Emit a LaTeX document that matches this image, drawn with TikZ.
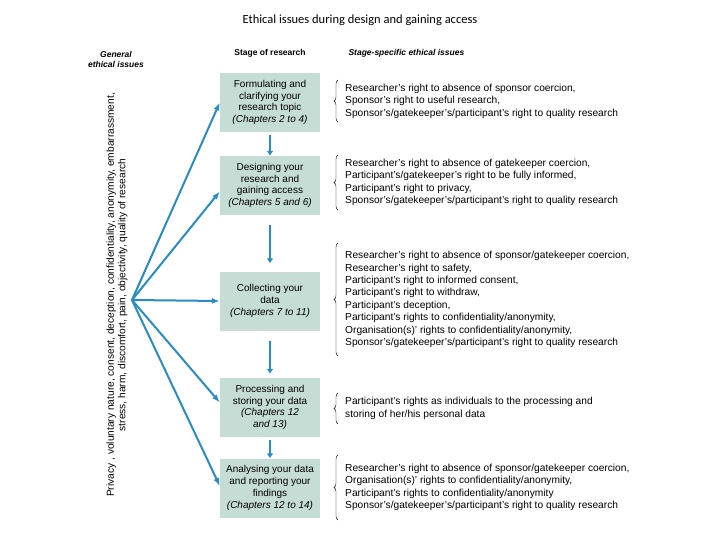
\documentclass[tikz,border=0pt]{standalone}
\usepackage{fontspec}
\setmainfont{Liberation Sans}
\newfontfamily\titlefont{Carlito}
\usetikzlibrary{arrows.meta,decorations.pathreplacing}
\definecolor{boxc}{HTML}{C6DDD6}
\definecolor{arr}{HTML}{2A8CC4}
\begin{document}
\begin{tikzpicture}[x=1pt,y=-1pt,
  stagebox/.style={fill=boxc,minimum width=100pt,minimum height=59pt,align=center,font=\fontsize{10}{11.8}\selectfont,inner sep=1pt},
  issues/.style={anchor=west,align=left,font=\fontsize{10.2}{12.4}\selectfont,inner sep=0pt},
  garr/.style={draw=arr,line width=2pt,-{Latex[length=8pt,width=6pt]}},
  varr/.style={draw=arr,line width=2.4pt,-{Latex[length=5pt,width=7pt]}},
  brc/.style={decorate,decoration={brace,amplitude=4pt},thin}]
\useasboundingbox (0,0) rectangle (720,540);
\node[font=\titlefont\fontsize{12.5}{14}\selectfont] (title) at (360,20) {Ethical issues during design and gaining access};
\node[font=\itshape\bfseries\fontsize{8.5}{10}\selectfont,align=center] (gh) at (116,59) {General\\ethical issues};
\node[font=\bfseries\fontsize{8.5}{10}\selectfont] (sh) at (270,53) {Stage of research};
\node[font=\itshape\bfseries\fontsize{8.5}{10}\selectfont,anchor=west] (ih) at (345,53) {Stage-specific ethical issues};
\node[rotate=90,align=center,font=\fontsize{10.2}{11.5}\selectfont] (gen) at (117,295) {Privacy , voluntary nature, consent, deception, confidentiality, anonymity, embarrassment,\\stress, harm, discomfort, pain, objectivity, quality of research};
\node[stagebox] (b1) at (270,102.5) {Formulating and\\clarifying your\\research topic\\\textit{(Chapters 2 to 4)}};
\node[stagebox] (b2) at (270,185.5) {Designing your\\research and\\gaining access\\\textit{(Chapters 5 and 6)}};
\node[stagebox] (b3) at (270,301) {Collecting your\\data\\\textit{(Chapters 7 to 11)}};
\node[stagebox] (b4) at (270,407.5) {Processing and\\storing your data\\\textit{(Chapters 12}\\\textit{and 13)}};
\node[stagebox] (b5) at (270,488) {Analysing your data\\and reporting your\\findings\\\textit{(Chapters 12 to 14)}};
\coordinate (o) at (132,300);
\draw[garr] (o) -- (b1.west);
\draw[garr] (o) -- ([yshift=-6pt]b2.west);
\draw[garr] (o) -- (b3.west);
\draw[garr] (o) -- ([yshift=5pt]b4.west);
\draw[garr] (o) -- ([yshift=2pt]b5.west);
\draw[varr] ([yshift=-3pt]b1.south) -- (b2.north);
\draw[varr] ([yshift=-10pt]b2.south) -- ([yshift=8pt]b3.north);
\draw[varr] ([yshift=-10pt]b3.south) -- ([yshift=4pt]b4.north);
\draw[varr] ([yshift=-3pt]b4.south) -- (b5.north);
\node[issues] (t1) at (345,101) {Researcher's right to absence of sponsor coercion,\\Sponsor's right to useful research,\\Sponsor's/gatekeeper's/participant's right to quality research};
\node[issues] (t2) at (345,182.5) {Researcher's right to absence of gatekeeper coercion,\\Participant's/gatekeeper's right to be fully informed,\\Participant's right to privacy,\\Sponsor's/gatekeeper's/participant's right to quality research};
\node[issues] (t3) at (345,299.5) {Researcher's right to absence of sponsor/gatekeeper coercion,\\Researcher's right to safety,\\Participant's right to informed consent,\\Participant's right to withdraw,\\Participant's deception,\\Participant's rights to confidentiality/anonymity,\\Organisation(s)' rights to confidentiality/anonymity,\\Sponsor's/gatekeeper's/participant's right to quality research};
\node[issues] (t4) at (345,408.5) {Participant's rights as individuals to the processing and\\storing of her/his personal data};
\node[issues] (t5) at (345,487.5) {Researcher's right to absence of sponsor/gatekeeper coercion,\\Organisation(s)' rights to confidentiality/anonymity,\\Participant's rights to confidentiality/anonymity\\Sponsor's/gatekeeper's/participant's right to quality research};
\foreach \t/\a/\b in {t1/80/122,t2/155/210,t3/243/356,t4/393/424,t5/455/520}
  \draw[brc] (338,\b) -- (338,\a);
\end{tikzpicture}
\end{document}
